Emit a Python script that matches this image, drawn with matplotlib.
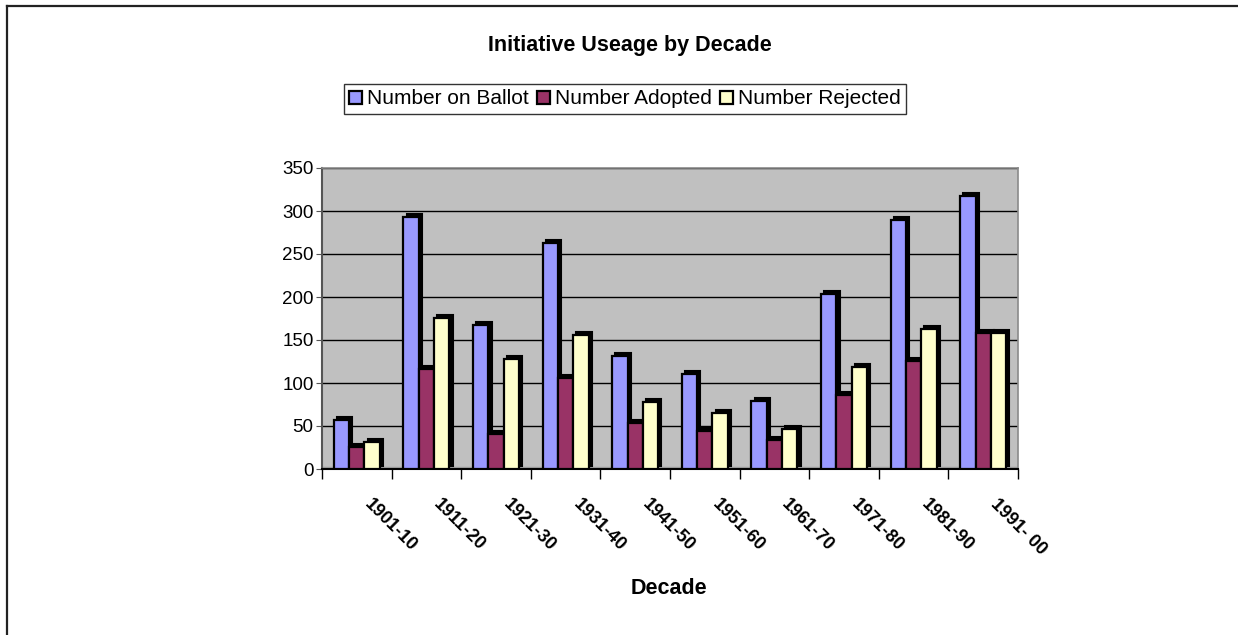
import matplotlib
matplotlib.use("Agg")
import matplotlib.pyplot as plt
import numpy as np
from matplotlib.transforms import ScaledTranslation
from matplotlib.lines import Line2D

decades = ["1901-10", "1911-20", "1921-30", "1931-40", "1941-50",
           "1951-60", "1961-70", "1971-80", "1981-90", "1991- 00"]
on_ballot = [57, 293, 168, 263, 131, 110, 79, 204, 289, 317]
adopted = [26, 116, 41, 106, 53, 44, 34, 86, 126, 158]
rejected = [31, 176, 128, 156, 78, 65, 46, 119, 163, 158]
series_names = ["Number on Ballot", "Number Adopted", "Number Rejected"]
colors = ["#9999FF", "#993366", "#FFFFCC"]

plt.rcParams['font.family'] = ['Liberation Sans', 'DejaVu Sans']

W, H = 1238, 635
fig = plt.figure(figsize=(W / 100, H / 100), dpi=100)
fig.patch.set_facecolor("white")

# chart frame (top and left edges visible)
fig.add_artist(Line2D([7 / W, 1.0], [1 - 6 / H, 1 - 6 / H], color="#222222", lw=1.6,
                      transform=fig.transFigure))
fig.add_artist(Line2D([7 / W, 7 / W], [1 - 6 / H, 0.0], color="#222222", lw=1.6,
                      transform=fig.transFigure))

left, right = 322 / W, 1018 / W
bottom, top = 1 - 469 / H, 1 - 168 / H
ax = fig.add_axes([left, bottom, right - left, top - bottom])
ax.set_facecolor("#C0C0C0")

x = np.arange(len(decades)) + 0.5
bw = 0.22
offs = [-bw, 0, bw]
data = [on_ballot, adopted, rejected]

px = 1 / 100
shadow_tr = ax.transData + ScaledTranslation(2.5 * px, 3 * px, fig.dpi_scale_trans)
for vals, off in zip(data, offs):
    ax.bar(x + off + 0.01, vals, bw, color="black", edgecolor="black", linewidth=1.5,
           transform=shadow_tr, zorder=3)
for vals, off, col, name in zip(data, offs, colors, series_names):
    ax.bar(x + off, vals, bw, color=col, edgecolor="black", linewidth=1.6,
           label=name, zorder=4)

# floor strip
ax.axhspan(0, 2.5, color="#A0A0A0", zorder=2)

ax.set_xlim(0, len(decades))
ax.set_ylim(0, 350)
ax.set_yticks(np.arange(0, 351, 50))
ax.tick_params(axis="y", labelsize=13.5, length=4, direction="out", color="#555555", pad=2)
ax.yaxis.grid(True, color="black", linewidth=1.0, zorder=1)
ax.set_axisbelow(True)

ax.set_xticks(np.arange(0, len(decades) + 1))
ax.set_xticklabels([])
ax.tick_params(axis="x", length=7, direction="out", color="black", width=1)

for s in ["top", "right"]:
    ax.spines[s].set_color("#8a8a8a")
    ax.spines[s].set_linewidth(1.2)
ax.spines["left"].set_color("#555555")
ax.spines["left"].set_linewidth(1.5)
ax.spines["bottom"].set_color("black")
ax.spines["bottom"].set_linewidth(1.5)

# rotated category labels
lab_tr = ax.get_xaxis_transform() + ScaledTranslation(16 * px, -27 * px, fig.dpi_scale_trans)
for xi, lab in zip(x, decades):
    ax.text(xi, 0, lab, transform=lab_tr, rotation=-45, rotation_mode="anchor",
            ha="left", va="top", fontsize=13, fontweight="bold")

fig.text(630 / W, 1 - 45 / H, "Initiative Useage by Decade", ha="center", va="center",
         fontsize=15.5, fontweight="bold")
fig.text(669 / W, 1 - 589 / H, "Decade", ha="center", va="center",
         fontsize=15.5, fontweight="bold")

leg = fig.legend(loc="center", bbox_to_anchor=(625 / W, 1 - 99 / H), ncol=3,
                 frameon=True, fancybox=False, edgecolor="black", fontsize=15,
                 handlelength=0.6, handleheight=0.6, handletextpad=0.25,
                 columnspacing=0.4, borderpad=0.25)
leg.get_frame().set_linewidth(1.0)

fig.savefig("out.png", dpi=100, facecolor="white")
